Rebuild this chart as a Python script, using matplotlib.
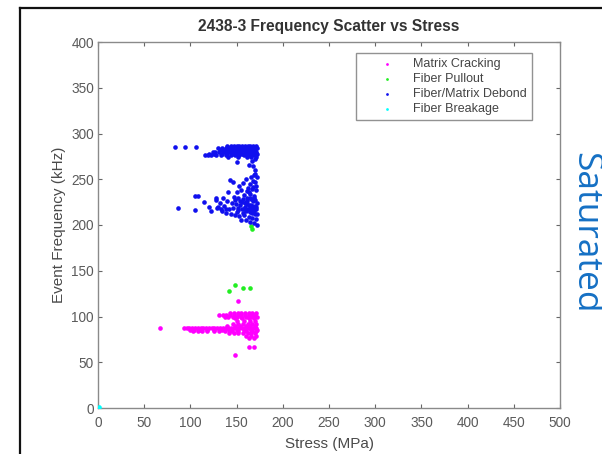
import matplotlib
matplotlib.use("Agg")
import matplotlib.pyplot as plt
from matplotlib.lines import Line2D

# ---------------- data ----------------
title = "2438-3 Frequency Scatter vs Stress"
xlabel = "Stress (MPa)"
ylabel = "Event Frequency (kHz)"
series_names = ["Matrix Cracking", "Fiber Pullout", "Fiber/Matrix Debond", "Fiber Breakage"]
series_colors = ["#ff00ff", "#22ee22", "#1010ee", "#00ffff"]
xticks = [0, 50, 100, 150, 200, 250, 300, 350, 400, 450, 500]
yticks = [0, 50, 100, 150, 200, 250, 300, 350, 400]

# Matrix Cracking (stress, frequency)
mc_x = [67, 151, 148, 163, 169,
        93, 96, 99, 102, 105, 108, 111, 114, 117, 120, 123, 126, 129, 132, 135, 138, 141, 144, 147, 150, 153, 156, 159, 162, 165, 168, 171,
        100, 104, 110, 118, 126, 134, 142, 150, 158, 166, 172,
        103, 108, 113, 118, 126, 131, 137, 145, 152, 160, 167, 171,
        143, 147, 151, 155, 159, 163, 167, 171,
        131, 135, 139, 143, 147, 151, 155, 159, 163, 167, 170,
        137, 141, 146, 150, 155, 160, 164, 168, 172,
        148, 156, 163, 169,
        150, 158, 165, 170,
        146, 152, 157, 162, 167, 171,
        140, 148, 154, 160, 165, 170,
        142, 147, 152, 157, 162, 166, 170,
        160, 166, 171,
        163, 169]
mc_y = [87, 117, 58, 67, 67,
        87, 87, 87, 87, 87, 87, 87, 87, 87, 87, 87, 87, 87, 87, 87, 87, 87, 87, 87, 87, 87, 87, 87, 87, 87, 87, 87,
        85.5, 85.5, 85.5, 85.5, 85.5, 85.5, 85.5, 85.5, 85.5, 85.5, 85.5,
        84, 84, 84, 84, 84, 84, 84, 84, 84, 84, 84, 84,
        104, 104, 104, 104, 104, 104, 104, 104,
        102, 102, 102, 102, 102, 102, 102, 102, 102, 102, 102,
        100, 100, 100, 100, 100, 100, 100, 100, 100,
        98, 98, 98, 98,
        95, 95, 95, 95,
        92, 92, 92, 92, 92, 92,
        90, 90, 90, 90, 90, 90,
        82, 82, 82, 82, 82, 82, 82,
        79, 79, 79,
        76, 76]

# Fiber Pullout
fp_x = [142, 148, 156.6, 165, 165.6, 167]
fp_y = [128, 134, 131, 131, 199, 196]

# Fiber/Matrix Debond
fd_x = [83, 94, 106,
        140, 144, 147, 150, 153, 156, 159, 162, 165, 168, 171,
        130, 134, 138, 142, 146, 150, 154, 157, 160, 163, 166, 169, 172,
        132, 136, 141, 145, 149, 152, 155, 158, 161, 164, 167, 170,
        124, 127, 131, 135, 139, 143, 147, 151, 155, 159, 162, 165, 168, 171,
        120, 126, 134, 140, 145, 150, 156, 160, 164, 168, 172,
        116, 119, 122, 128, 133, 138, 144, 148, 153, 158, 163, 167, 170,
        141, 152, 161, 166, 171,
        150, 163, 168, 170, 167, 170, 169, 172, 168,
        143, 146, 160, 165, 170, 168, 162, 155, 150, 171, 158, 164, 169, 147, 152, 157, 161, 166, 170, 172,
        140, 145, 149, 154, 159, 163, 167, 171, 128, 132, 136, 130, 138, 142, 146, 151, 156, 160, 165, 169,
        172, 134, 139, 144, 148, 153, 158, 163, 167, 171, 150, 155, 160, 165, 169, 172, 162, 157, 135, 141,
        153, 157, 166, 170, 163, 168, 170, 166, 161,
        159, 164, 168, 171, 156, 161, 166, 170, 152, 158, 163, 167, 148, 154, 160, 165, 169, 161, 167, 171,
        105, 108.5, 115, 87, 105, 128, 129, 133, 120, 122]
fd_y = [285, 285, 285,
        286, 286, 286, 286, 286, 286, 286, 286, 286, 286, 286,
        284, 284, 284, 284, 284, 284, 284, 284, 284, 284, 284, 284, 284,
        282, 282, 282, 282, 282, 282, 282, 282, 282, 282, 282, 282,
        280, 280, 280, 280, 280, 280, 280, 280, 280, 280, 280, 280, 280, 280,
        278, 278, 278, 278, 278, 278, 278, 278, 278, 278, 278,
        276, 276, 276, 276, 276, 276, 276, 276, 276, 276, 276, 276, 276,
        274, 274, 274, 274, 274,
        269, 266, 265, 272, 270, 260, 255, 252, 248,
        249, 247, 250, 245, 247, 242, 240, 238, 236, 238, 233, 234, 232, 231, 229, 228, 230, 228, 227, 224,
        226, 224, 223, 222, 224, 222, 221, 220, 227, 224, 221, 220, 218, 217, 219, 216, 217, 215, 214, 215,
        212, 215, 213, 212, 211, 210, 211, 209, 208, 207, 214, 206, 205, 203, 202, 200, 218, 213, 230, 236,
        243, 246, 252, 256, 236, 226, 212, 217, 226,
        220, 219, 218, 217, 225, 223, 222, 221, 219, 218, 216, 213, 227, 226, 225, 229, 230, 237, 239, 243,
        231.7, 231.7, 225.5, 219, 216, 229, 219, 217, 220, 215]

# Fiber Breakage
fb_x = [0.5, 1.0]
fb_y = [0.5, 1.0]

# ---------------- figure ----------------
plt.rcParams['font.family'] = ['Liberation Sans', 'DejaVu Sans']
fig = plt.figure(figsize=(6.02, 4.54), dpi=100)
fig.patch.set_facecolor('white')
ax = fig.add_axes([98/602, 1-408/454, 462/602, 366/454])

data = [(mc_x, mc_y), (fp_x, fp_y), (fd_x, fd_y), (fb_x, fb_y)]
for (xs, ys), name, col in zip(data, series_names, series_colors):
    ax.scatter(xs, ys, s=11, c=col, marker='o', linewidths=0, label=name, zorder=3)

ax.set_xlim(0, 500)
ax.set_ylim(0, 400)
ax.set_xticks(xticks)
ax.set_yticks(yticks)
grey = '#8a8a8a'
for sp in ax.spines.values():
    sp.set_color(grey)
    sp.set_linewidth(1.0)
ax.tick_params(direction='in', length=3, width=0.8, color='#666666',
               top=True, right=True, labelsize=9.8, labelcolor='#5a5a5a')
ax.tick_params(axis='x', pad=6)
ax.tick_params(axis='y', pad=3)
ax.set_title(title, fontsize=11.2, fontweight='bold', color='#333333', pad=8)
ax.set_xlabel(xlabel, fontsize=11, color='#4a4a4a', labelpad=5)
ax.set_ylabel(ylabel, fontsize=11, color='#4a4a4a', labelpad=4)

leg = ax.legend(loc='upper right', bbox_to_anchor=((532-98)/462, (408-53)/366),
                borderaxespad=0, fontsize=9, frameon=True, fancybox=False,
                markerscale=0.6, handletextpad=0.0, handlelength=4.2,
                labelspacing=0.25, borderpad=0.4, scatterpoints=1)
leg.get_frame().set_edgecolor('#777777')
leg.get_frame().set_linewidth(1.0)
for t in leg.get_texts():
    t.set_color('#444444')

# screenshot frame lines
fig.add_artist(Line2D([20/602, 1.0], [1-8/454, 1-8/454], transform=fig.transFigure,
                      color='#111111', linewidth=1.6))
fig.add_artist(Line2D([20/602, 20/602], [0, 1-8/454], transform=fig.transFigure,
                      color='#111111', linewidth=1.6))

fig.text(585/602, 1-233/454, "Saturated", rotation=270, ha='center', va='center',
         fontsize=25.5, color='#1570c4', family=['Open Sans', 'DejaVu Sans'])

fig.savefig("out.png", dpi=100, facecolor='white')
